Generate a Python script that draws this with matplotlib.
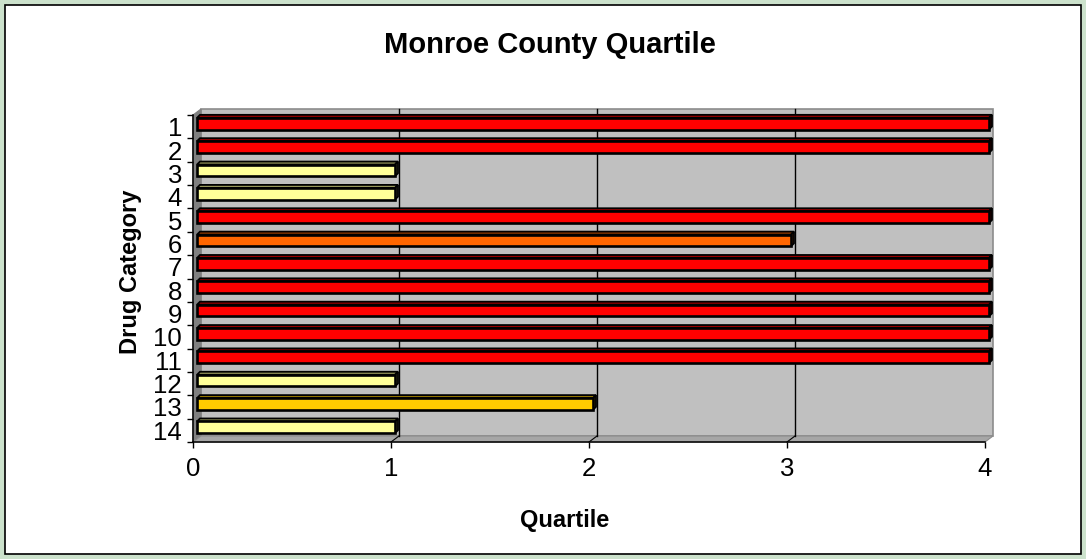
import numpy as np
import matplotlib
matplotlib.use('Agg')
import matplotlib.pyplot as plt
import matplotlib.transforms as mtransforms
from matplotlib.patches import Rectangle, Polygon
from matplotlib.colors import to_rgb

plt.rcParams['font.family'] = ['Liberation Sans', 'DejaVu Sans']

# Dados
categorias = [str(i) for i in range(1, 15)]
quartil = [4, 4, 1, 1, 4, 3, 4, 4, 4, 4, 4, 1, 2, 1]
cores_quartil = {1: '#FFFF99', 2: '#FFCC00', 3: '#FF6600', 4: '#FF0000'}
x_ticks = [0, 1, 2, 3, 4]

W, H = 1086, 559
fig = plt.figure(figsize=(W / 100, H / 100), dpi=100)
fig.patch.set_facecolor('#CCE2CC')
fig.add_artist(Rectangle((5 / W, 5 / H), 1076 / W, 549 / H, transform=fig.transFigure,
                         facecolor='white', edgecolor='black', lw=1.2, zorder=0))

# posicao do eixo (em pixels)
ax_l, ax_r, ax_t, ax_b = 193, 985, 115, 442
ax = fig.add_axes([ax_l / W, 1 - ax_b / H, (ax_r - ax_l) / W, (ax_b - ax_t) / H])
ax.patch.set_visible(False)

n = len(categorias)
y = np.arange(1, n + 1)
ax.set_xlim(0, 4)
ax.set_ylim(n + 0.5, 0.5)

px_x = (ax_r - ax_l) / 4.0       # pixels por unidade x
px_y = (ax_b - ax_t) / float(n)  # pixels por categoria

# parede 3D (fundo, lateral e piso)
wx, wy = 8, 6
dxa, dya = wx / (ax_r - ax_l), wy / (ax_b - ax_t)
ax.add_patch(Polygon([(dxa, dya), (1 + dxa, dya), (1 + dxa, 1 + dya), (dxa, 1 + dya)],
                     closed=True, transform=ax.transAxes, facecolor='#C0C0C0',
                     edgecolor='#8C8C8C', lw=1.2, clip_on=False, zorder=0.5))
ax.add_patch(Polygon([(0, 0), (0, 1), (dxa, 1 + dya), (dxa, dya)], closed=True,
                     transform=ax.transAxes, facecolor='#808080', edgecolor='#808080',
                     lw=0.8, clip_on=False, zorder=0.6))
ax.add_patch(Polygon([(0, 0), (1, 0), (1 + dxa, dya), (dxa, dya)], closed=True,
                     transform=ax.transAxes, facecolor='#A6A6A6', edgecolor='#8C8C8C',
                     lw=0.8, clip_on=False, zorder=0.6))

# grade no fundo
desl_parede = mtransforms.ScaledTranslation(wx / 100, wy / 100, fig.dpi_scale_trans)
for v in x_ticks[1:-1]:
    ax.plot([v, v], [0, 1], color='black', lw=1,
            transform=ax.get_xaxis_transform() + desl_parede, clip_on=False, zorder=0.8)
    ax.plot([v, v + wx / px_x], [n + 0.5, n + 0.5 - wy / px_y], color='black', lw=0.8,
            clip_on=False, zorder=0.8)

# barras 3D
fx, fy = 4, 3   # deslocamento da face frontal
dx, dy = 3, 3   # profundidade
desl_barra = mtransforms.ScaledTranslation(fx / 100, fy / 100, fig.dpi_scale_trans)
h = 0.5
cores = [cores_quartil[q] for q in quartil]
barras = ax.barh(y, quartil, height=h, color=cores, edgecolor='black', lw=1.9, zorder=3)
ddx, ddy = dx / px_x, dy / px_y
for b, yi, v, c in zip(barras, y, quartil, cores):
    b.set_transform(ax.transData + desl_barra)
    b.set_clip_on(False)
    rgb = np.array(to_rgb(c))
    topo = [(0, yi - h / 2), (v, yi - h / 2), (v + ddx, yi - h / 2 - ddy), (ddx, yi - h / 2 - ddy)]
    lado = [(v, yi - h / 2), (v, yi + h / 2), (v + ddx, yi + h / 2 - ddy), (v + ddx, yi - h / 2 - ddy)]
    ax.add_patch(Polygon(topo, closed=True, facecolor=rgb * 0.6, edgecolor='black', lw=1.3,
                         transform=ax.transData + desl_barra, clip_on=False, zorder=2.9))
    ax.add_patch(Polygon(lado, closed=True, facecolor=rgb * 0.45, edgecolor='black', lw=1.3,
                         transform=ax.transData + desl_barra, clip_on=False, zorder=2.9))

# eixos
for s in ['top', 'right']:
    ax.spines[s].set_visible(False)
for s in ['left', 'bottom']:
    ax.spines[s].set_linewidth(1.1)
    ax.spines[s].set_zorder(4)

ax.set_xticks(x_ticks)
ax.set_xticklabels([str(t) for t in x_ticks], fontsize=18.5)
ax.tick_params(axis='x', direction='out', length=4.5, width=1, pad=6)

ax.set_yticks(np.arange(0.5, n + 1, 1))
ax.set_yticklabels([])
ax.set_yticks(y, minor=True)
ax.set_yticklabels(categorias, minor=True, fontsize=18.5)
ax.tick_params(axis='y', which='major', direction='out', length=4.5, width=1)
ax.tick_params(axis='y', which='minor', length=0, pad=8)

fig.text(550 / W, 1 - 45 / H, 'Monroe County Quartile', fontsize=21, fontweight='bold',
         ha='center', va='center')
fig.text(565 / W, 1 - 521 / H, 'Quartile', fontsize=17, fontweight='bold',
         ha='center', va='center')
fig.text(130 / W, 1 - 272 / H, 'Drug Category', fontsize=17, fontweight='bold',
         ha='center', va='center', rotation=90)

fig.savefig('out.png', dpi=100, facecolor=fig.get_facecolor())
